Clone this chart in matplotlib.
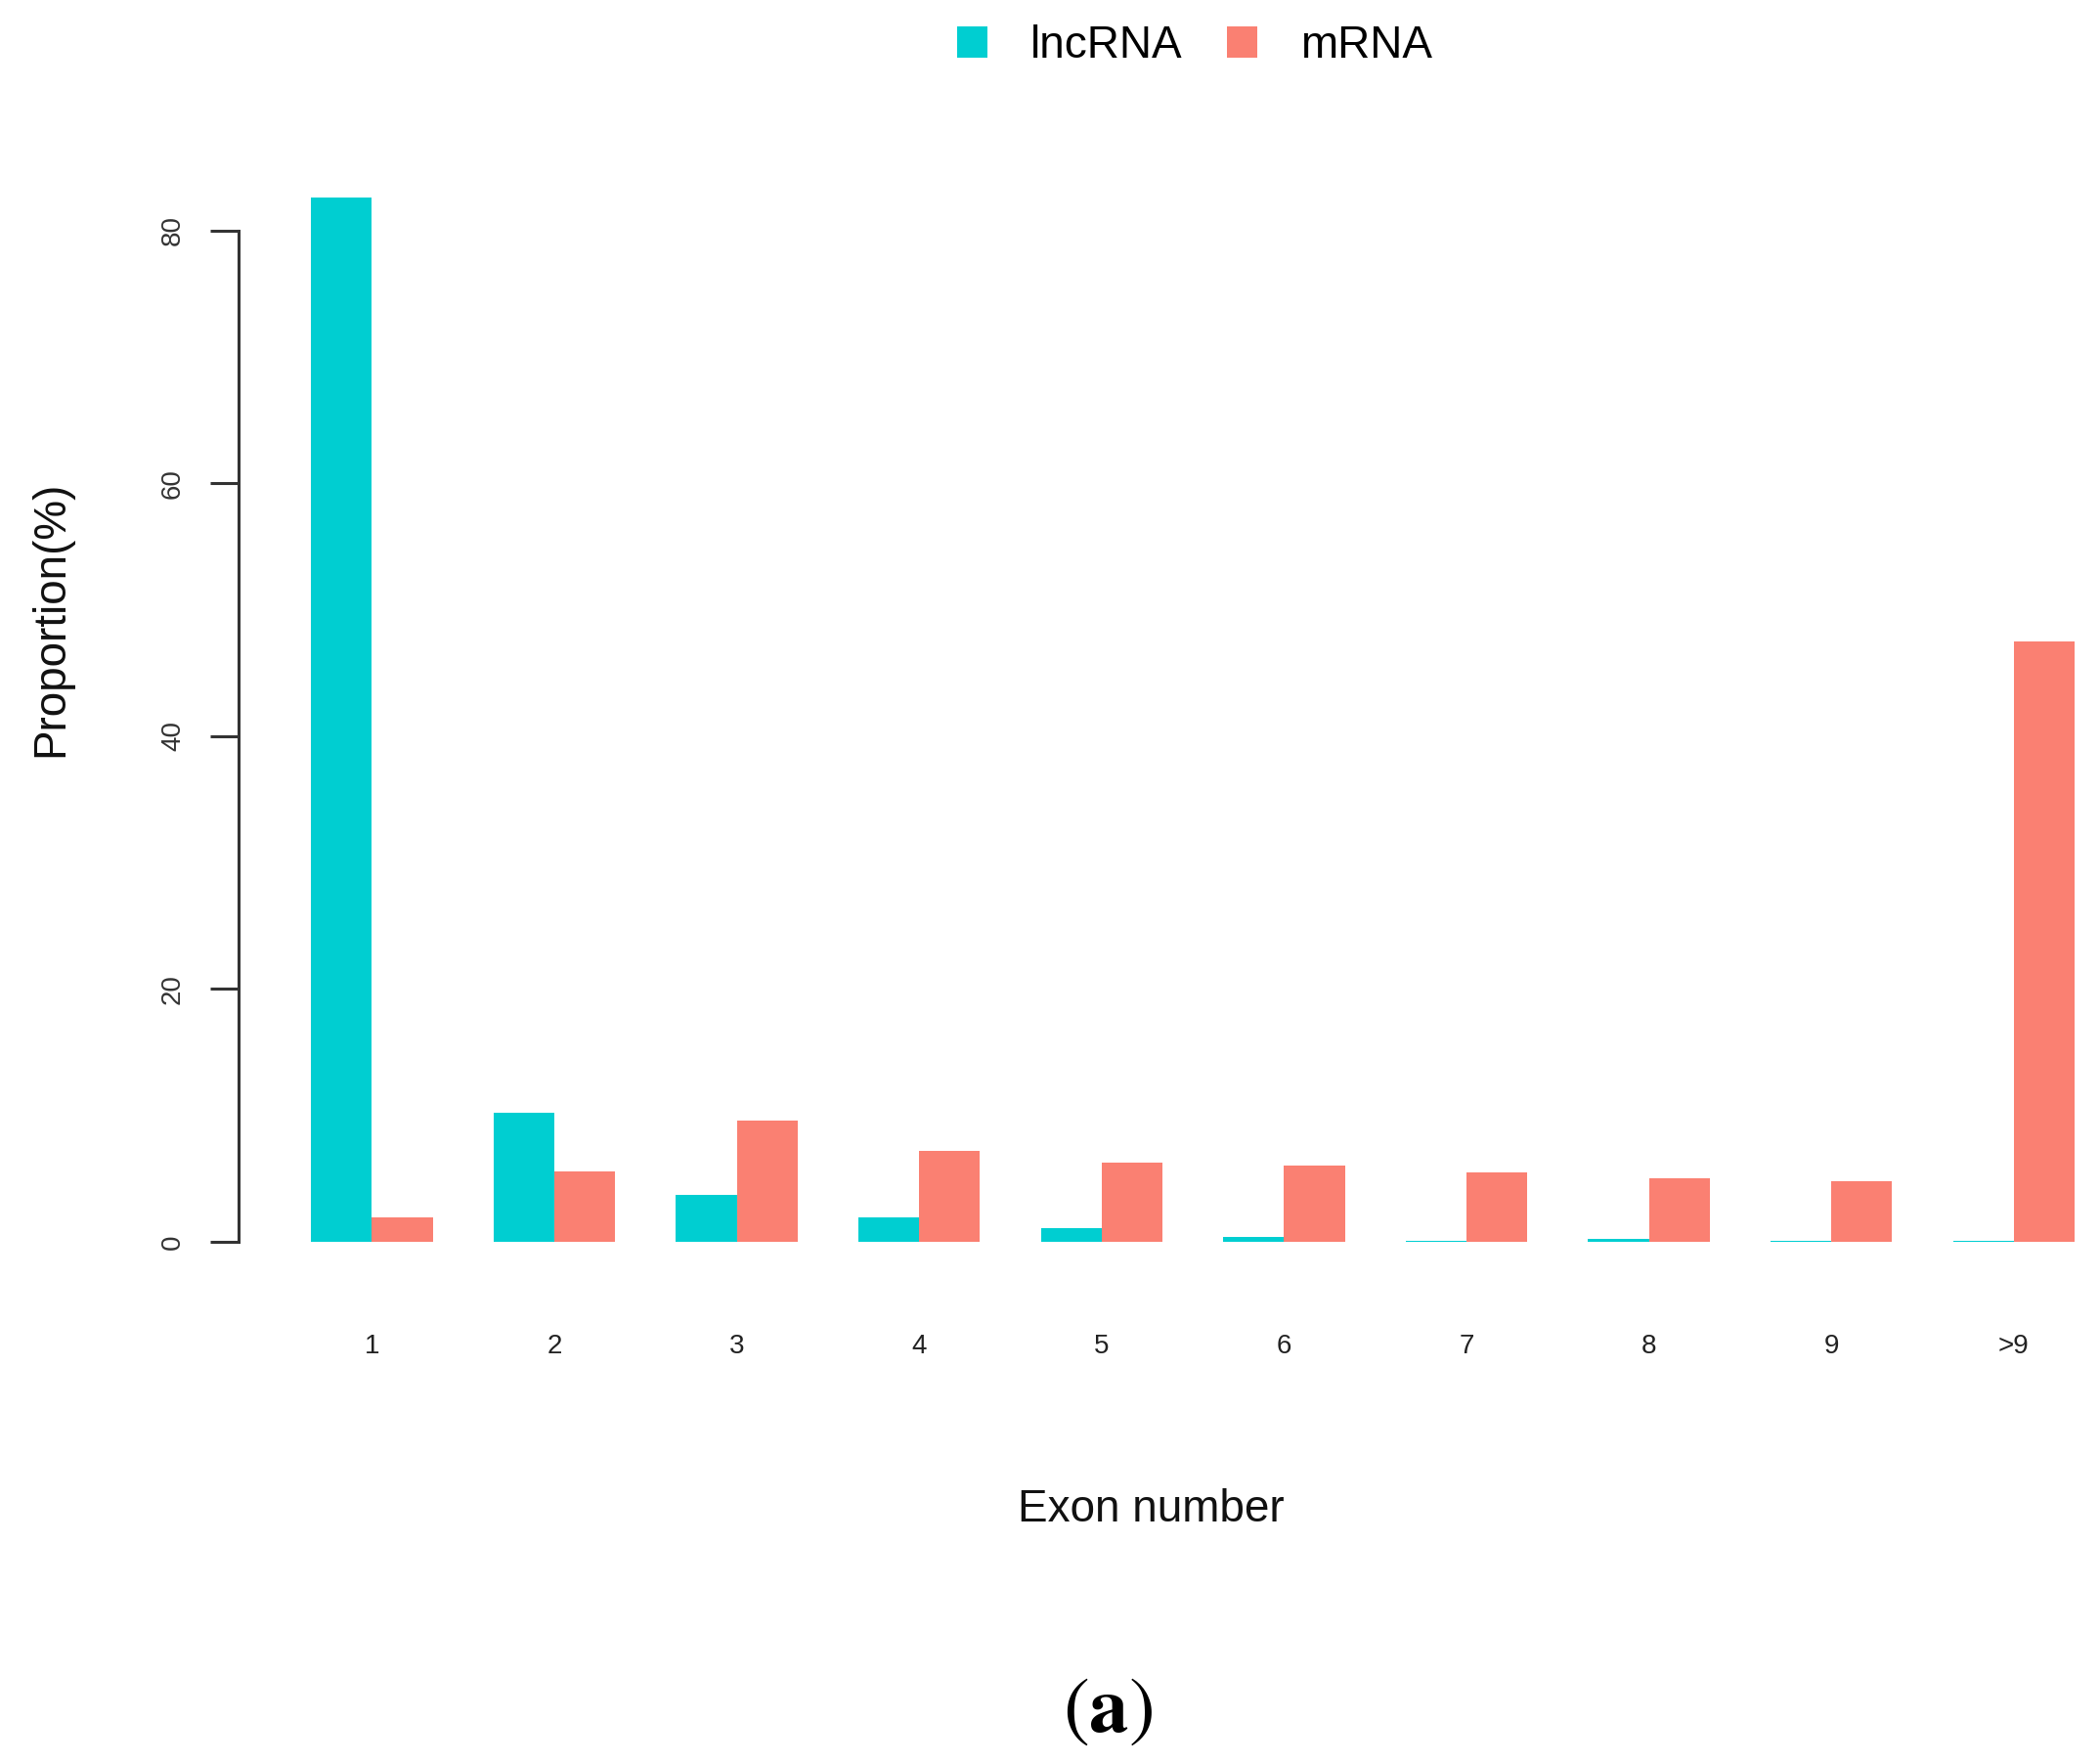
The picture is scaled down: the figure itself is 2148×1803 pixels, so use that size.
import matplotlib
matplotlib.use("Agg")
import matplotlib.pyplot as plt
from matplotlib.patches import Patch
import numpy as np

plt.rcParams['font.family'] = ['Liberation Sans', 'DejaVu Sans']
plt.rcParams['mathtext.fontset'] = 'stix'

categories = ["1", "2", "3", "4", "5", "6", "7", "8", "9", ">9"]
lncrna = [82.6, 10.2, 3.7, 1.9, 1.1, 0.4, 0.05, 0.2, 0.05, 0.05]
mrna = [1.9, 5.6, 9.6, 7.2, 6.3, 6.0, 5.5, 5.0, 4.8, 47.5]
series_names = ["lncRNA", "mRNA"]
colors = ["#00CED1", "#FA8072"]

W, H = 2148, 1803
fig = plt.figure(figsize=(W / 100, H / 100), dpi=100)

# axes spanning the whole figure; limits chosen to match pixel layout
px_per_x = 62.2
x0_px = 256.0
px_per_y = 12.93
y0_px = 1270.0
ax = fig.add_axes([0, 0, 1, 1])
ax.set_xlim(-x0_px / px_per_x, (W - x0_px) / px_per_x)
ax.set_ylim(-(H - y0_px) / px_per_y, y0_px / px_per_y)
ax.patch.set_alpha(0)

n = len(categories)
left_l = np.array([1 + 3 * i for i in range(n)], dtype=float)
ax.bar(left_l, lncrna, width=1.0, align='edge', color=colors[0], linewidth=0)
ax.bar(left_l + 1, mrna, width=1.0, align='edge', color=colors[1], linewidth=0)

for s in ['top', 'right']:
    ax.spines[s].set_visible(False)
ax.spines['bottom'].set_position(('data', 0))
ax.spines['bottom'].set_visible(False)
ax.spines['left'].set_position(('data', -0.19))
ax.spines['left'].set_bounds(0, 80)
ax.spines['left'].set_linewidth(2.2)
ax.spines['left'].set_color('#333333')

ax.set_yticks([0, 20, 40, 60, 80])
ax.set_yticklabels(["0", "20", "40", "60", "80"], rotation=90, va='center',
                   fontsize=20, color='#333333')
ax.tick_params(axis='y', length=21, width=2.2, color='#333333', pad=18)

ax.set_xticks(left_l + 1)
ax.set_xticklabels(categories, fontsize=20, color='#222222')
ax.tick_params(axis='x', length=0, pad=68)

fig.text(52 / W, 1 - 633 / H, "Proportion(%)", rotation=90, ha='center',
         va='center', fontsize=33, color='#111111')
fig.text(1177 / W, 1 - 1544 / H, "Exon number", ha='center', va='center',
         fontsize=33, color='#111111')

handles = [Patch(facecolor=colors[0], edgecolor='none'),
           Patch(facecolor=colors[1], edgecolor='none')]
fig.legend(handles, series_names, loc='center', bbox_to_anchor=(1222 / W, 1 - 47 / H),
           ncol=2, frameon=False, fontsize=33, handlelength=0.68, handleheight=0.68,
           handletextpad=0.95, columnspacing=1.0)

fig.text(1133 / W, 1 - 1750 / H, r'$\mathrm{(}\mathbf{a}\mathrm{)}$', ha='center',
         va='center', fontsize=58, color='black')

fig.savefig("out.png", dpi=100)
